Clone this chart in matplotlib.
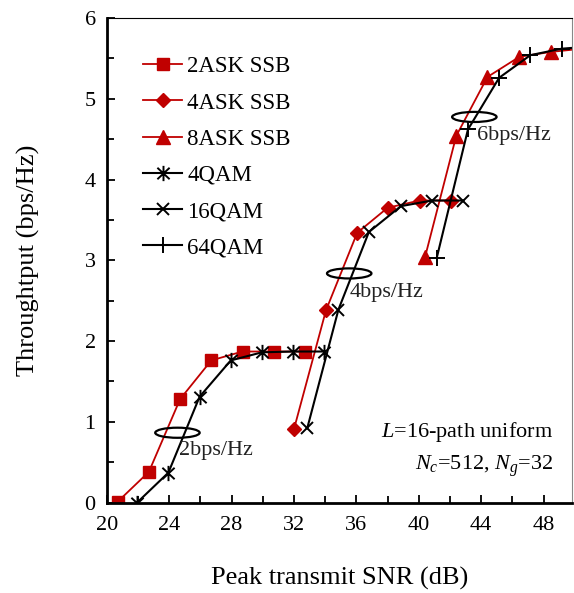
import matplotlib
matplotlib.use("Agg")
import matplotlib.pyplot as plt
from matplotlib.patches import Ellipse
from matplotlib.path import Path
import numpy as np

plt.rcParams['font.family'] = ['Liberation Serif', 'DejaVu Serif']
plt.rcParams['mathtext.fontset'] = 'custom'
plt.rcParams['mathtext.rm'] = 'Liberation Serif'
plt.rcParams['mathtext.it'] = 'Liberation Serif:italic'

# data
ask2_x = [20.7, 22.7, 24.7, 26.7, 28.7, 30.7, 32.7]
ask2_y = [0.01, 0.38, 1.28, 1.76, 1.87, 1.87, 1.87]
ask4_x = [32.0, 34.05, 36.05, 38.0, 40.05, 42.05]
ask4_y = [0.91, 2.38, 3.34, 3.65, 3.74, 3.74]
ask8_x = [40.4, 42.4, 44.4, 46.45, 48.45, 50.45]
ask8_y = [3.04, 4.54, 5.27, 5.52, 5.58, 5.62]
qam4_x = [21.95, 23.95, 25.95, 27.95, 29.95, 31.95, 33.95]
qam4_y = [0.0, 0.37, 1.31, 1.76, 1.86, 1.87, 1.87]
qam16_x = [32.85, 34.85, 36.8, 38.85, 40.85, 42.85]
qam16_y = [0.92, 2.39, 3.35, 3.67, 3.74, 3.74]
qam64_x = [41.15, 43.15, 45.15, 47.15, 49.15, 51.15]
qam64_y = [3.03, 4.62, 5.26, 5.54, 5.62, 5.65]

labels = ['2ASK SSB', '4ASK SSB', '8ASK SSB', '4QAM', '16QAM', '64QAM']

# bps/Hz group annotations: ellipse centre, label position
groups = ['2bps/Hz', '4bps/Hz', '6bps/Hz']
ell_x = [24.53, 35.54, 43.56]
ell_y = [0.864, 2.837, 4.775]
lab_x = [24.62, 35.58, 43.7]
lab_y = [0.64, 2.6, 4.54]

red = '#C00000'

# asterisk marker: vertical bar plus an X
ast = Path([(0, -1), (0, 1), (-0.8, -0.75), (0.8, 0.75), (-0.8, 0.75), (0.8, -0.75)],
           [Path.MOVETO, Path.LINETO, Path.MOVETO, Path.LINETO, Path.MOVETO, Path.LINETO])

fig = plt.figure(figsize=(5.74, 5.93), dpi=100)
ax = fig.add_axes([0.186, 0.1526, 0.81, 0.817])

ax.plot(ask2_x, ask2_y, '-', color=red, lw=1.3, marker='s', ms=8, label=labels[0])
ax.plot(ask4_x, ask4_y, '-', color=red, lw=1.3, marker='D', ms=7.5, label=labels[1])
ax.plot(ask8_x, ask8_y, '-', color=red, lw=1.3, marker='^', ms=9.5, label=labels[2])
ax.plot(qam4_x, qam4_y, '-', color='black', lw=1.5, marker=ast, ms=11, mew=1.4,
        mec='black', label=labels[3])
ax.plot(qam16_x, qam16_y, '-', color='black', lw=1.5, marker='x', ms=8, mew=1.4,
        label=labels[4])
ax.plot(qam64_x, qam64_y, '-', color='black', lw=1.5, marker='+', ms=11, mew=1.4,
        label=labels[5])

for i in range(len(groups)):
    ax.add_patch(Ellipse((ell_x[i], ell_y[i]), 2.85, 0.125, fill=False,
                         ec='black', lw=1.6, zorder=3))
    ax.text(lab_x[i], lab_y[i], groups[i], fontsize=16, ha='left', va='center',
            color='#222222')

ax.text(48.6, 0.87, r'$L$=16-path uniform', fontsize=16, ha='right', va='center')
ax.text(48.6, 0.45, r'$N_c$=512, $N_g$=32', fontsize=16, ha='right', va='center')

ax.set_xlim(20, 49.8)
ax.set_ylim(0, 6)
ax.set_xticks(np.arange(20, 49, 4))
ax.set_xticks(np.arange(20, 50, 2), minor=True)
ax.set_yticks(np.arange(0, 7, 1))
ax.set_yticks(np.arange(0, 6.01, 0.5), minor=True)
ax.tick_params(which='both', direction='in', top=False, right=False,
               labelsize=16, width=1.3)
ax.tick_params(which='major', length=6)
ax.tick_params(which='minor', length=5)
ax.tick_params(axis='x', pad=10)
ax.tick_params(axis='y', pad=8)

ax.spines['left'].set_linewidth(2)
ax.spines['bottom'].set_linewidth(2)
ax.spines['top'].set_linewidth(0.8)
ax.spines['right'].set_linewidth(0.8)
ax.spines['right'].set_color('#888888')

ax.set_xlabel('Peak transmit SNR (dB)', fontsize=19, labelpad=23)
ax.set_ylabel('Throughtput (bps/Hz)', fontsize=19, labelpad=32)

ax.legend(loc='upper left', bbox_to_anchor=(0.078, 0.921), frameon=False,
          fontsize=16.5, handlelength=1.7, handletextpad=0.22, labelspacing=0.66,
          borderpad=0, borderaxespad=0)

fig.savefig('out.png', dpi=100)
